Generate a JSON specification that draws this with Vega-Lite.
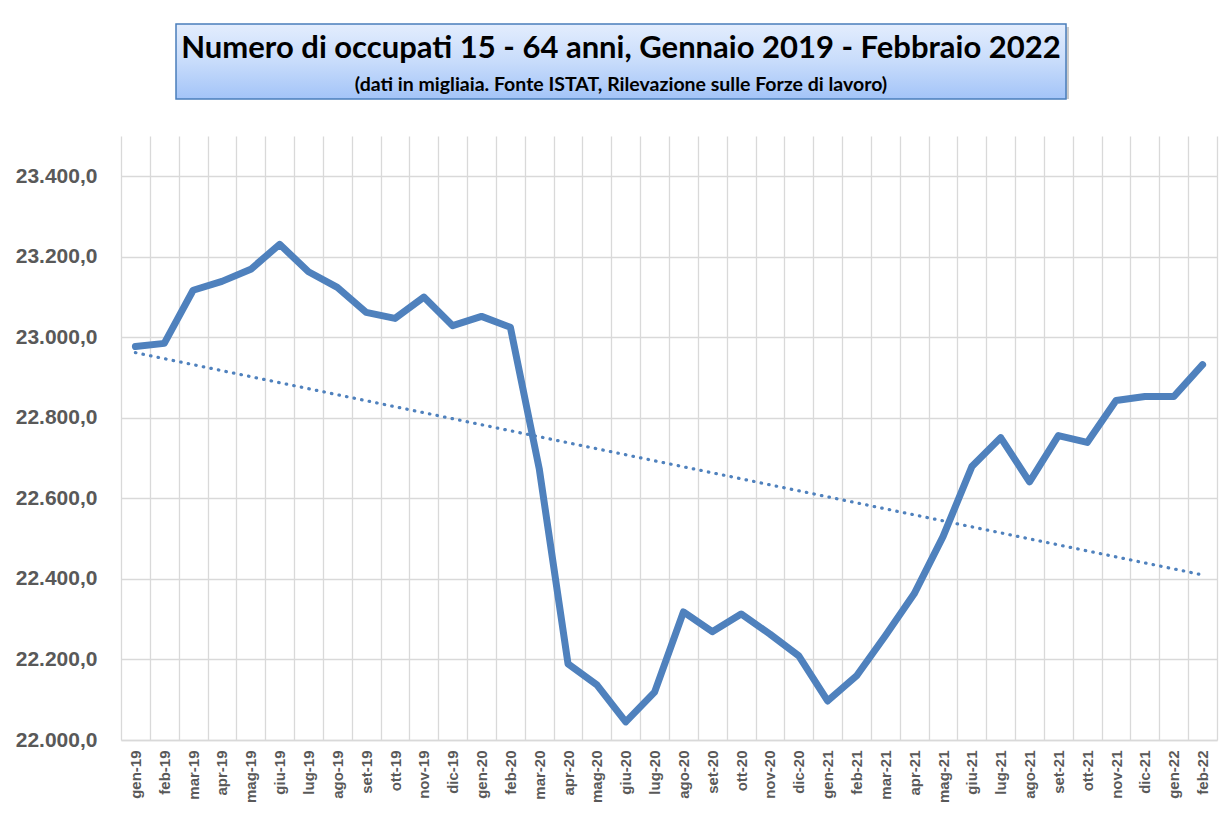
{
  "$schema": "https://vega.github.io/schema/vega-lite/v6.json",
  "padding": {"left": 15, "top": 23, "right": 5, "bottom": 5},
  "background": "white",
  "spacing": 36,
  "center": false,
  "datasets": {
    "titolo": [
      {"t": "Numero di occupati 15 - 64 anni, Gennaio 2019 - Febbraio 2022", "s": "(dati in migliaia. Fonte ISTAT, Rilevazione sulle Forze di lavoro)"}
    ],
    "occupati": [
      {"m": "gen-19", "v": 22977, "trend": 22962},
      {"m": "feb-19", "v": 22985},
      {"m": "mar-19", "v": 23117},
      {"m": "apr-19", "v": 23139},
      {"m": "mag-19", "v": 23169},
      {"m": "giu-19", "v": 23231},
      {"m": "lug-19", "v": 23163},
      {"m": "ago-19", "v": 23124},
      {"m": "set-19", "v": 23062},
      {"m": "ott-19", "v": 23047},
      {"m": "nov-19", "v": 23100},
      {"m": "dic-19", "v": 23029},
      {"m": "gen-20", "v": 23052},
      {"m": "feb-20", "v": 23025},
      {"m": "mar-20", "v": 22674},
      {"m": "apr-20", "v": 22189},
      {"m": "mag-20", "v": 22137},
      {"m": "giu-20", "v": 22045},
      {"m": "lug-20", "v": 22119},
      {"m": "ago-20", "v": 22318},
      {"m": "set-20", "v": 22269},
      {"m": "ott-20", "v": 22313},
      {"m": "nov-20", "v": 22263},
      {"m": "dic-20", "v": 22209},
      {"m": "gen-21", "v": 22097},
      {"m": "feb-21", "v": 22159},
      {"m": "mar-21", "v": 22259},
      {"m": "apr-21", "v": 22363},
      {"m": "mag-21", "v": 22505},
      {"m": "giu-21", "v": 22679},
      {"m": "lug-21", "v": 22751},
      {"m": "ago-21", "v": 22641},
      {"m": "set-21", "v": 22756},
      {"m": "ott-21", "v": 22739},
      {"m": "nov-21", "v": 22843},
      {"m": "dic-21", "v": 22853},
      {"m": "gen-22", "v": 22853},
      {"m": "feb-22", "v": 22932, "trend": 22410}
    ]
  },
  "vconcat": [
    {
      "spacing": 0,
      "hconcat": [
        {
          "width": 54,
          "height": 75,
          "data": {"name": "titolo"},
          "mark": {"type": "rect", "opacity": 0},
          "encoding": {}
        },
        {
          "width": 890,
          "height": 75,
          "data": {"name": "titolo"},
          "layer": [
            {"mark": {"type": "rect", "fill": "#000000", "opacity": 0.2, "xOffset": 3, "yOffset": 3}, "encoding": {}},
            {"mark": {"type": "rect", "stroke": "#4a7ebb", "strokeWidth": 1.5,
              "fill": {"gradient": "linear", "x1": 0, "y1": 0, "x2": 0, "y2": 1,
                "stops": [{"offset": 0, "color": "#e3edfd"}, {"offset": 0.5, "color": "#c8dcfb"}, {"offset": 1, "color": "#a3c4f8"}]}}, "encoding": {}},
            {"mark": {"type": "text", "font": "Lato", "fontWeight": "bold", "fontSize": 31, "color": "#000000", "baseline": "alphabetic", "dy": -4}, "encoding": {"text": {"field": "t"}}},
            {"mark": {"type": "text", "font": "Lato", "fontWeight": "bold", "fontSize": 19.5, "color": "#000000", "baseline": "alphabetic", "dy": 29}, "encoding": {"text": {"field": "s"}}}
          ]
        }
      ]
    },
    {
      "width": 1096,
      "height": 604,
      "data": {"name": "occupati"},
      "layer": [
        {
          "transform": [{"filter": "isValid(datum.trend)"}],
          "mark": {"type": "line", "color": "#4f81bd", "strokeWidth": 3.2, "strokeDash": [0.5, 7.2], "strokeCap": "round"},
          "encoding": {
            "x": {"field": "m", "type": "ordinal"},
            "y": {"field": "trend", "type": "quantitative"}
          }
        },
        {
          "mark": {"type": "line", "color": "#4f81bd", "strokeWidth": 7, "strokeJoin": "round", "strokeCap": "round"},
          "encoding": {
            "x": {"field": "m", "type": "ordinal",
              "scale": {"type": "band", "paddingInner": 0, "paddingOuter": 0,
                "domain": ["gen-19","feb-19","mar-19","apr-19","mag-19","giu-19","lug-19","ago-19","set-19","ott-19","nov-19","dic-19",
                           "gen-20","feb-20","mar-20","apr-20","mag-20","giu-20","lug-20","ago-20","set-20","ott-20","nov-20","dic-20",
                           "gen-21","feb-21","mar-21","apr-21","mag-21","giu-21","lug-21","ago-21","set-21","ott-21","nov-21","dic-21",
                           "gen-22","feb-22"]},
              "axis": {"title": null, "labelAngle": 270, "labelFontSize": 15, "labelPadding": 10, "ticks": false,
                "domainColor": "#d9d9d9", "domainWidth": 1.3, "grid": true, "tickBand": "extent", "gridColor": "#d9d9d9", "gridWidth": 1.3}},
            "y": {"field": "v", "type": "quantitative",
              "scale": {"domain": [22000, 23500], "zero": false, "nice": false},
              "axis": {"title": null, "values": [22000, 22200, 22400, 22600, 22800, 23000, 23200, 23400],
                "labelExpr": "replace(replace(replace(format(datum.value, ',.1f'), ',', '_'), '.', ','), '_', '.')",
                "labelFontSize": 21, "labelPadding": 24, "ticks": false, "domain": false,
                "grid": true, "gridColor": "#d9d9d9", "gridWidth": 1.3}}
          }
        }
      ]
    }
  ],
  "config": {
    "view": {"stroke": null},
    "axis": {"labelFont": "Liberation Sans", "labelFontWeight": "bold", "labelColor": "#595959"}
  }
}
